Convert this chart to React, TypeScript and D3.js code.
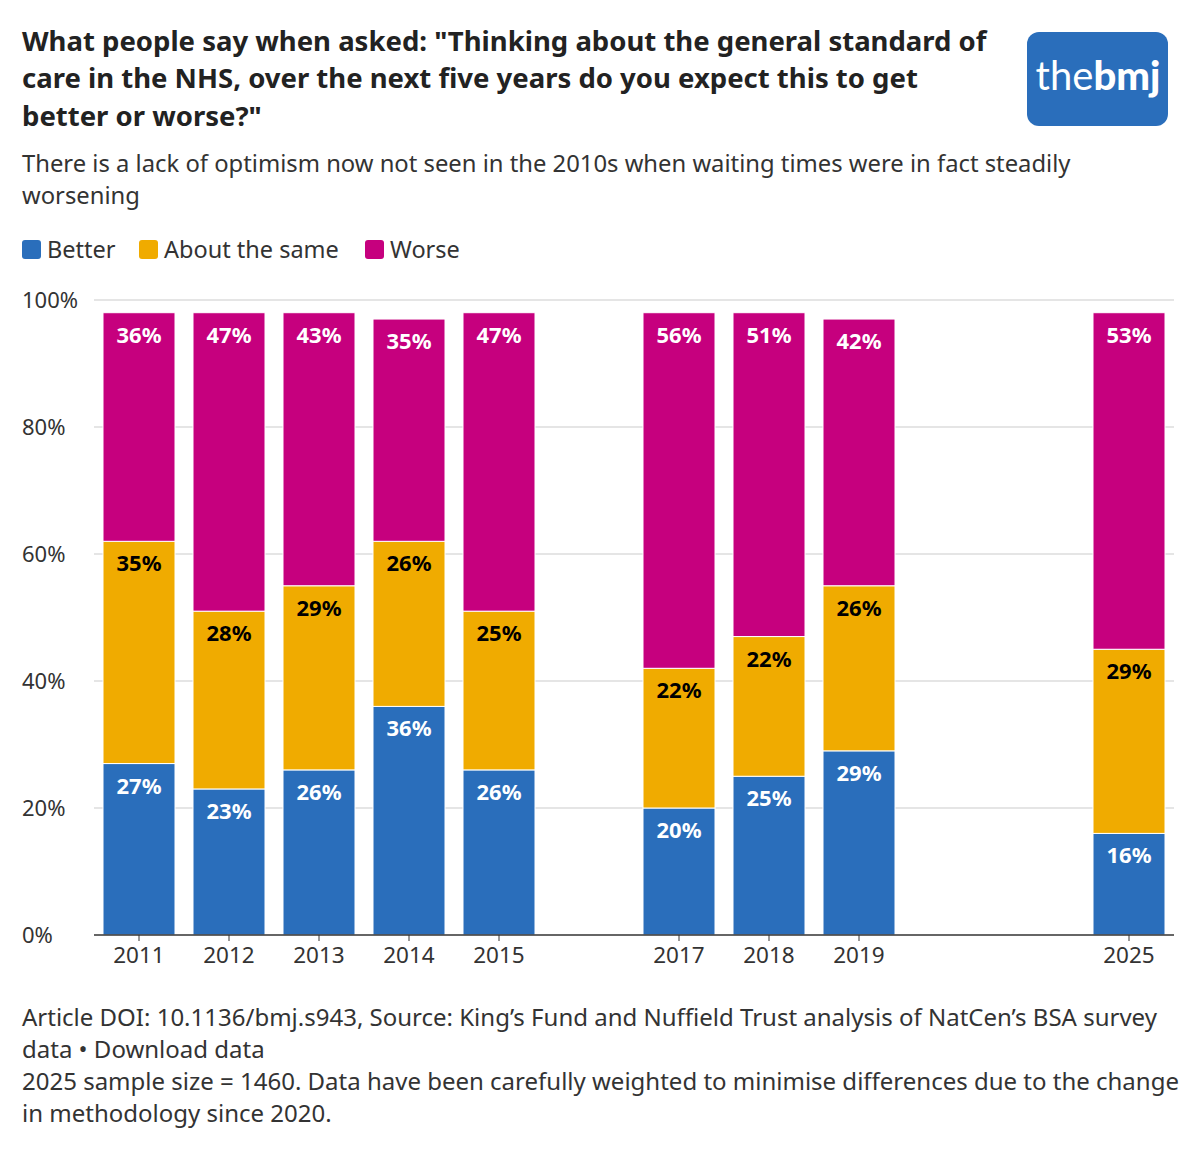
import * as d3 from "d3";

const years = ["2011", "2012", "2013", "2014", "2015", "2017", "2018", "2019", "2025"];
const slots = ["2011", "2012", "2013", "2014", "2015", "2016", "2017", "2018", "2019", "2020", "2021", "2025"];
const better = [27, 23, 26, 36, 26, 20, 25, 29, 16];
const same = [35, 28, 29, 26, 25, 22, 22, 26, 29];
const worse = [36, 47, 43, 35, 47, 56, 51, 42, 53];
const yTicks = [0, 20, 40, 60, 80, 100];

const series = [
  { key: "Better", values: better, color: "#2a6ebb", text: "#fff" },
  { key: "About the same", values: same, color: "#f0ab00", text: "#000" },
  { key: "Worse", values: worse, color: "#c6007e", text: "#fff" },
];

const font = "'Noto Sans', sans-serif";

export default function App() {
  const W = 1200, H = 1149;
  const x = d3.scaleBand().domain(slots).range([94, 1174]).paddingInner(0.2).paddingOuter(0.1);
  const y = d3.scaleLinear().domain([0, 100]).range([935, 300]);

  const stacks = years.map((yr, i) => {
    let acc = 0;
    return series.map((s) => {
      const v = s.values[i];
      const seg = { yr, v, y0: acc, y1: acc + v, color: s.color, text: s.text };
      acc += v;
      return seg;
    });
  });

  const legendX = [22, 139, 365];

  return (
    <svg width={W} height={H} style={{ display: "block", margin: -8 }} fontFamily={font}>
      <rect width={W} height={H} fill="#fff" />
      <g fontSize={27.5} fontWeight={700} fill="#222">
        <text x={22} y={51}>What people say when asked: "Thinking about the general standard of</text>
        <text x={22} y={88}>care in the NHS, over the next five years do you expect this to get</text>
        <text x={22} y={126}>better or worse?"</text>
      </g>
      <rect x={1027} y={32} width={141} height={94} rx={12} fill="#2a6ebb" />
      <text x={1098} y={90} textAnchor="middle" fill="#fff" fontSize={40} fontFamily="'Lato', sans-serif">
        the<tspan fontWeight={900}>bmj</tspan>
      </text>
      <g fontSize={23.8} fill="#333">
        <text x={22} y={172}>There is a lack of optimism now not seen in the 2010s when waiting times were in fact steadily</text>
        <text x={22} y={204}>worsening</text>
      </g>
      {series.map((s, i) => (
        <g key={s.key} transform={`translate(${legendX[i]},240)`}>
          <rect width={19} height={19} rx={3} fill={s.color} />
          <text x={25} y={18} fontSize={23.5} fill="#333">{s.key}</text>
        </g>
      ))}
      {yTicks.map((t) => (
        <g key={t}>
          {t > 0 && <line x1={94} x2={1174} y1={y(t)} y2={y(t)} stroke="#ddd" strokeWidth={1.5} />}
          <text x={22} y={y(t) + 8} fontSize={22} fill="#333">{t}%</text>
        </g>
      ))}
      {stacks.map((st) =>
        st.map((seg, j) => (
          <g key={seg.yr + j}>
            <rect x={x(seg.yr)!} y={y(seg.y1)} width={x.bandwidth()} height={y(seg.y0) - y(seg.y1)} fill={seg.color} stroke="#fff" strokeWidth={1} />
            <text x={x(seg.yr)! + x.bandwidth() / 2} y={y(seg.y1) + 30} textAnchor="middle" fontSize={22} fontWeight={700} fill={seg.text}>
              {seg.v}%
            </text>
          </g>
        ))
      )}
      <line x1={94} x2={1174} y1={935} y2={935} stroke="#333" strokeWidth={1.5} />
      {years.map((yr) => (
        <g key={yr}>
          <line x1={x(yr)! + x.bandwidth() / 2} x2={x(yr)! + x.bandwidth() / 2} y1={935} y2={941} stroke="#333" />
          <text x={x(yr)! + x.bandwidth() / 2} y={963} textAnchor="middle" fontSize={22.5} fill="#333">{yr}</text>
        </g>
      ))}
      <g fontSize={24} fill="#333">
        <text x={22} y={1026}>Article DOI: 10.1136/bmj.s943, Source: King’s Fund and Nuffield Trust analysis of NatCen’s BSA survey</text>
        <text x={22} y={1058}>data • Download data</text>
        <text x={22} y={1090}>2025 sample size = 1460. Data have been carefully weighted to minimise differences due to the change</text>
        <text x={22} y={1122}>in methodology since 2020.</text>
      </g>
    </svg>
  );
}
